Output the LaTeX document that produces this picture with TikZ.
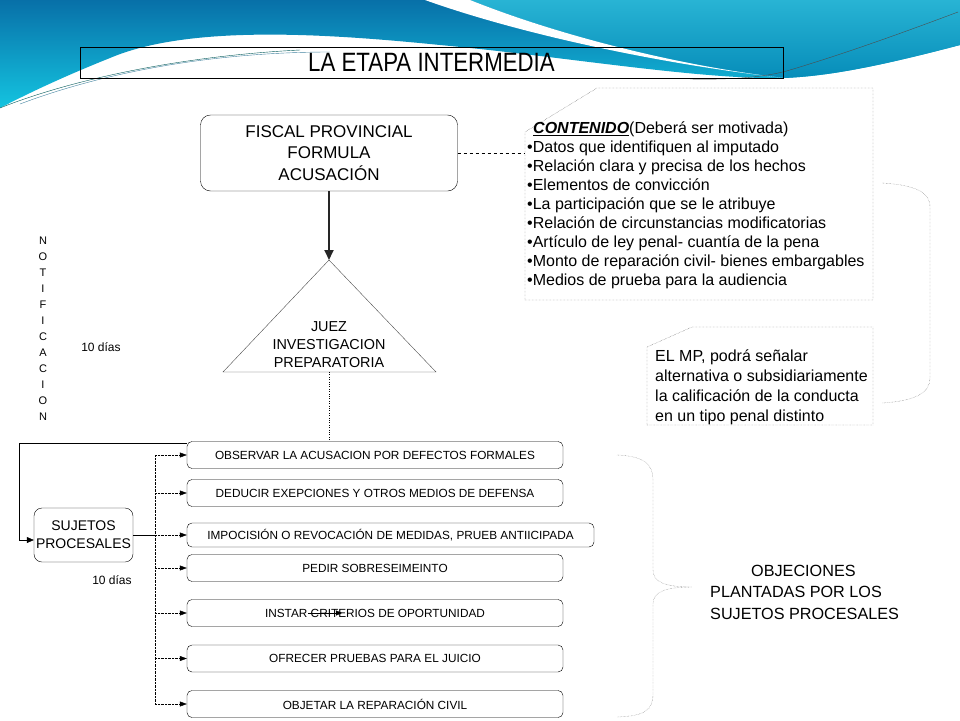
\documentclass[tikz,border=0pt]{standalone}
\usepackage{fontspec}
\setmainfont{Liberation Sans}
\usepackage{graphicx}
\usepackage{tikz}
\usetikzlibrary{arrows.meta, positioning, calc}

\definecolor{bandtop}{RGB}{8,112,168}
\definecolor{bandlow}{RGB}{20,196,224}
\definecolor{bandright}{RGB}{40,180,212}
\definecolor{llavegris}{RGB}{110,110,110}

\begin{document}
\begin{tikzpicture}[
		x=1pt, y=-1pt,
		opc/.style={draw, thin, rounded corners=5pt, minimum width=376pt, minimum height=27pt, inner sep=0pt, font=\fontsize{11.8}{14}\selectfont},
		rama/.style={densely dotted, thin, -{Triangle[length=7pt,width=5pt]}},
		llave/.style={densely dotted, thin, llavegris},
		nota/.style={densely dotted, thin, black!70},
		>={Triangle[length=7pt,width=6pt]}
		]
		% Fondo y banda superior
		\fill[white] (0,0) rectangle (960,720);
		\useasboundingbox (0,0) rectangle (960,720);
		\shade[top color=bandtop, bottom color=bandlow] (0,0) -- (960,0) -- (960,45) .. controls (880,66) and (830,76) .. (784,78) .. controls (700,80) and (560,56) .. (440,45) .. controls (330,34) and (190,24) .. (110,58) .. controls (60,78) and (25,95) .. (0,108) -- cycle;
		\shade[top color=bandright, bottom color=bandtop!80!cyan] (470,0) -- (960,0) -- (960,45) .. controls (880,66) and (830,76) .. (784,78) .. controls (680,66) and (560,36) .. (470,0) -- cycle;
		\fill[white] (425,0) -- (470,0) .. controls (560,36) and (680,66) .. (784,78) .. controls (660,64) and (520,34) .. (425,0) -- cycle;
		\draw[teal!70!black, thin] (0,108) .. controls (70,80) and (180,56) .. (300,50);
		\draw[cyan!60!black, thin] (20,104) .. controls (110,70) and (220,52) .. (330,52);
		\draw[black!70, thin] (690,79) .. controls (740,80) and (770,76) .. (790,70) .. controls (850,52) and (910,30) .. (958,12);
		
		% Titulo
		\node[draw, thin, minimum width=703pt, minimum height=31pt, inner sep=0pt] (titulo) at (431.5,62.5) {\scalebox{0.84}[1]{\fontsize{26.5}{30}\selectfont LA ETAPA INTERMEDIA}};
		
		% Fiscal y juez
		\node[draw, thin, rounded corners=10pt, minimum width=257pt, minimum height=76pt, align=center, font=\fontsize{17}{21.5}\selectfont] (fiscal) at (329,153) {FISCAL PROVINCIAL\\FORMULA\\ACUSACIÓN};
		\coordinate (apex) at (329,260);
		\coordinate (tribase) at (329,372);
		\draw[thin, black!70] (apex) -- (223,372) -- (436,372) -- cycle;
		\node[align=center, inner sep=0pt, font=\fontsize{14.4}{18}\selectfont] (juez) at (329,345) {JUEZ\\INVESTIGACION\\PREPARATORIA};
		\draw[-{Triangle[length=10pt,width=9pt]}, line width=1.8pt, black!85] (fiscal) -- (apex);
		
		% Contenido de la acusacion
		\coordinate (contw) at (525,153);
		\draw[nota] (525,300) -- (525,132) -- (597,88) -- (873,88) -- (873,300) -- cycle;
		\node[anchor=west, align=left, inner sep=0pt, font=\fontsize{16}{19}\selectfont] (contenido) at (527,205) {\hspace*{6pt}\textbf{\textit{\underline{CONTENIDO}}}(Deberá ser motivada)\\
			•Datos que identifiquen al imputado\\
			•Relación clara y precisa de los hechos\\
			•Elementos de convicción\\
			•La participación que se le atribuye\\
			•Relación de circunstancias modificatorias\\
			•Artículo de ley penal- cuantía de la pena\\
			•Monto de reparación civil- bienes embargables\\
			•Medios de prueba para la audiencia};
		\draw[dashed, thin] (fiscal.east) -- (fiscal.east -| contw);
		
		% EL MP
		\draw[nota] (647,425) -- (647,347) -- (692,327) -- (873,327) -- (873,425) -- cycle;
		\node[anchor=west, align=left, inner sep=0pt, font=\fontsize{16}{20}\selectfont] (mp) at (655,387) {EL MP, podrá señalar\\alternativa o subsidiariamente\\la calificación de la conducta\\en un tipo penal distinto};
		\draw[llave] (882,183) .. controls (915,185) and (930,192) .. (930,207) -- (930,378) .. controls (930,393) and (915,401) .. (882,403);
		
		% Notificacion
		\node[align=center, inner sep=0pt, font=\fontsize{11}{16}\selectfont] (notif) at (43,329) {N\\O\\T\\I\\F\\I\\C\\A\\C\\I\\O\\N};
		\node[inner sep=0pt, font=\fontsize{12}{14}\selectfont] (dias1) at (101,347) {10 días};
		\node[inner sep=0pt, font=\fontsize{12}{14}\selectfont] (dias2) at (112,580) {10 días};
		
		% Objeciones de los sujetos procesales
		\node[opc] (observar) at (375,455) {OBSERVAR LA ACUSACION POR DEFECTOS FORMALES};
		\node[opc] (deducir) at (375,493) {DEDUCIR EXEPCIONES Y OTROS MEDIOS DE DEFENSA};
		\node[opc, minimum width=407pt, minimum height=24pt] (impocision) at (390.5,535) {IMPOCISIÓN O REVOCACIÓN DE MEDIDAS, PRUEB ANTIICIPADA};
		\node[opc] (pedir) at (375,568) {PEDIR SOBRESEIMEINTO};
		\node[opc] (instar) at (375,613) {INSTAR CRITERIOS DE OPORTUNIDAD};
		\node[opc] (ofrecer) at (375,658.5) {OFRECER PRUEBAS PARA EL JUICIO};
		\node[opc] (objetar) at (375,704) {OBJETAR LA REPARACIÓN CIVIL};
		\draw[-{Triangle[length=6pt,width=5pt]}, thin] ([xshift=-67pt]instar.center) -- ([xshift=-33pt]instar.center);
		
		\node[draw, thin, rounded corners=8pt, minimum width=99pt, minimum height=54pt, align=center, inner sep=0pt, font=\fontsize{14}{18}\selectfont] (sujetos) at (83.5,535) {SUJETOS\\PROCESALES};
		
		\draw[dotted, thin] (tribase) -- (tribase |- observar.north);
		\draw[->, thin] ([yshift=-2pt]observar.north west) -| ([xshift=-15pt,yshift=-5pt]sujetos.west) -- ([yshift=-5pt]sujetos.west);
		
		\coordinate (bus) at (155,535);
		\draw[thin] (sujetos.east) -- (bus);
		\draw[densely dotted, thin] (bus |- observar.west) -- (bus |- objetar.west);
		\draw[rama] (bus |- observar.west) -- (observar.west);
		\draw[rama] (bus |- deducir.west) -- (deducir.west);
		\draw[rama] (bus |- impocision.west) -- (impocision.west);
		\draw[rama] (bus |- pedir.west) -- (pedir.west);
		\draw[rama] (bus |- instar.west) -- (instar.west);
		\draw[rama] (bus |- ofrecer.west) -- (ofrecer.west);
		\draw[rama] (bus |- objetar.west) -- (objetar.west);
		
		\draw[llave] (617,455) .. controls (645,456) and (653,465) .. (653,480) -- (653,570) .. controls (653,582) and (665,587) .. (692,587) .. controls (665,587) and (653,592) .. (653,604) -- (653,694) .. controls (653,710) and (645,716) .. (617,717);
		\node[anchor=west, align=left, inner sep=0pt, font=\fontsize{16.2}{21.5}\selectfont] (objeciones) at (710,592) {\hspace*{41pt}OBJECIONES\\PLANTADAS POR LOS\\SUJETOS PROCESALES};
	\end{tikzpicture}
\end{document}
